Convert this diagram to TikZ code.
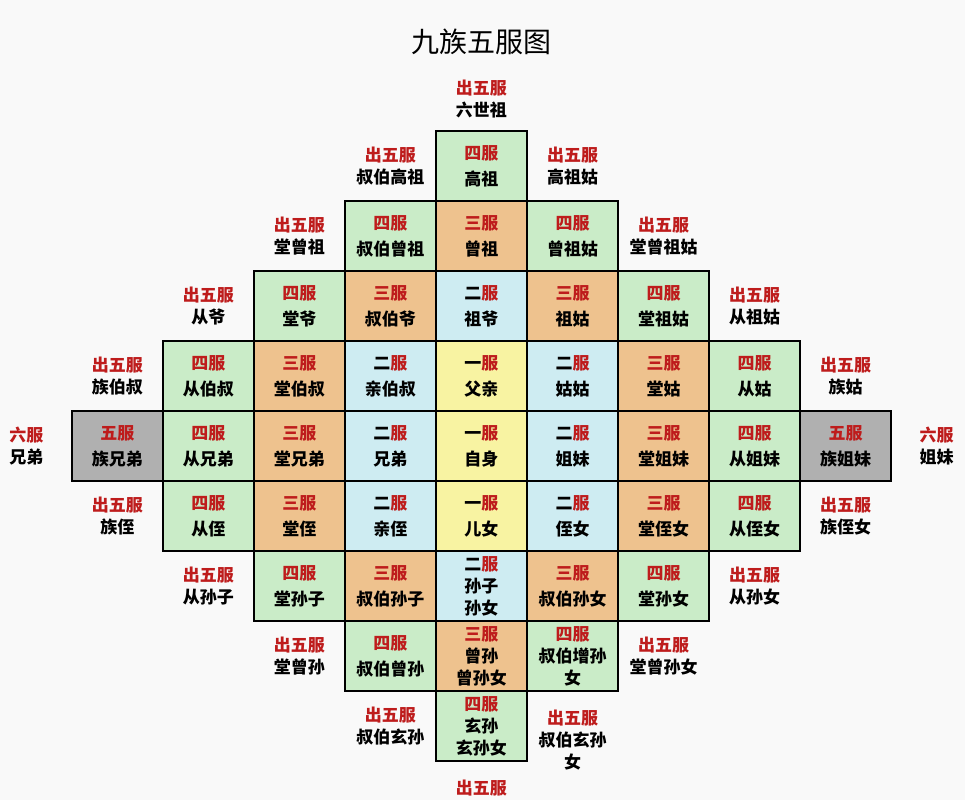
\documentclass[tikz,border=0pt]{standalone}
\usepackage{fontspec}
\setmainfont{Noto Sans CJK SC}
\usepackage{tikz, xcolor}

\definecolor{fuRed}{RGB}{190,28,28}
\definecolor{fuGreen}{RGB}{202,236,200}
\definecolor{fuOrange}{RGB}{238,194,142}
\definecolor{fuBlue}{RGB}{206,236,242}
\definecolor{fuYellow}{RGB}{248,243,162}
\definecolor{fuGray}{RGB}{176,176,176}
\definecolor{fuBack}{RGB}{249,249,249}
\newcommand{\fu}[1]{\textcolor{fuRed}{#1}}

\tikzset{
    cell/.style={draw=black, line width=1pt, minimum width=45.5pt, minimum height=35pt, inner sep=0pt, align=center, font=\bfseries\fontsize{8.5}{13}\selectfont},
    outside/.style={inner sep=0pt, align=center, font=\bfseries\fontsize{8.5}{11}\selectfont}
}

\begin{document}
\begin{tikzpicture}[x=45.5pt, y=35pt]
    \useasboundingbox (-5.291,2.371) rectangle (5.313,-9.057);
    \fill [fuBack] (-5.291,2.371) rectangle (5.313,-9.057);
    \node (title) at (0,1.771) {\fontsize{14}{16}\selectfont 九族五服图};
    % the grid of mourning grades
    \foreach \c/\r/\col/\txt in {
        0/0/fuGreen/{\fu{四服}\\高祖},
        -1/1/fuGreen/{\fu{四服}\\叔伯曾祖}, 0/1/fuOrange/{\fu{三服}\\曾祖}, 1/1/fuGreen/{\fu{四服}\\曾祖姑},
        -2/2/fuGreen/{\fu{四服}\\堂爷}, -1/2/fuOrange/{\fu{三服}\\叔伯爷}, 0/2/fuBlue/{二\fu{服}\\祖爷},
        1/2/fuOrange/{\fu{三服}\\祖姑}, 2/2/fuGreen/{\fu{四服}\\堂祖姑},
        -3/3/fuGreen/{\fu{四服}\\从伯叔}, -2/3/fuOrange/{\fu{三服}\\堂伯叔}, -1/3/fuBlue/{二\fu{服}\\亲伯叔},
        0/3/fuYellow/{一\fu{服}\\父亲}, 1/3/fuBlue/{二\fu{服}\\姑姑}, 2/3/fuOrange/{\fu{三服}\\堂姑},
        3/3/fuGreen/{\fu{四服}\\从姑},
        -4/4/fuGray/{\fu{五服}\\族兄弟}, -3/4/fuGreen/{\fu{四服}\\从兄弟}, -2/4/fuOrange/{\fu{三服}\\堂兄弟},
        -1/4/fuBlue/{二\fu{服}\\兄弟}, 0/4/fuYellow/{一\fu{服}\\自身}, 1/4/fuBlue/{二\fu{服}\\姐妹},
        2/4/fuOrange/{\fu{三服}\\堂姐妹}, 3/4/fuGreen/{\fu{四服}\\从姐妹}, 4/4/fuGray/{\fu{五服}\\族姐妹},
        -3/5/fuGreen/{\fu{四服}\\从侄}, -2/5/fuOrange/{\fu{三服}\\堂侄}, -1/5/fuBlue/{二\fu{服}\\亲侄},
        0/5/fuYellow/{一\fu{服}\\儿女}, 1/5/fuBlue/{二\fu{服}\\侄女}, 2/5/fuOrange/{\fu{三服}\\堂侄女},
        3/5/fuGreen/{\fu{四服}\\从侄女},
        -2/6/fuGreen/{\fu{四服}\\堂孙子}, -1/6/fuOrange/{\fu{三服}\\叔伯孙子},
        0/6/fuBlue/{二\fu{服}\\[-2pt]孙子\\[-2pt]孙女}, 1/6/fuOrange/{\fu{三服}\\叔伯孙女}, 2/6/fuGreen/{\fu{四服}\\堂孙女},
        -1/7/fuGreen/{\fu{四服}\\叔伯曾孙}, 0/7/fuOrange/{\fu{三服}\\[-2pt]曾孙\\[-2pt]曾孙女},
        1/7/fuGreen/{\fu{四服}\\[-2pt]叔伯增孙\\[-2pt]女},
        0/8/fuGreen/{\fu{四服}\\[-2pt]玄孙\\[-2pt]玄孙女}}
        \node [cell, fill=\col] (k\c r\r) at (\c,-\r) {\txt};
    % kin outside the five grades
    \foreach \c/\r/\txt [count=\i] in {
        0/-0.957/{\fu{出五服}\\六世祖},
        -1/0/{\fu{出五服}\\叔伯高祖}, 1/0/{\fu{出五服}\\高祖姑},
        -2/1/{\fu{出五服}\\堂曾祖}, 2/1/{\fu{出五服}\\堂曾祖姑},
        -3/2/{\fu{出五服}\\从爷}, 3/2/{\fu{出五服}\\从祖姑},
        -4/3/{\fu{出五服}\\族伯叔}, 4/3/{\fu{出五服}\\族姑},
        -5/4/{\fu{六服}\\兄弟}, 5/4/{\fu{六服}\\姐妹},
        -4/5/{\fu{出五服}\\族侄}, 4/5/{\fu{出五服}\\族侄女},
        -3/6/{\fu{出五服}\\从孙子}, 3/6/{\fu{出五服}\\从孙女},
        -2/7/{\fu{出五服}\\堂曾孙}, 2/7/{\fu{出五服}\\堂曾孙女},
        -1/8/{\fu{出五服}\\叔伯玄孙}, 1/8.2/{\fu{出五服}\\叔伯玄孙\\女},
        0/8.886/{\fu{出五服}}}
        \node [outside] (o\i) at (\c,-\r) {\txt};
\end{tikzpicture}
\end{document}
